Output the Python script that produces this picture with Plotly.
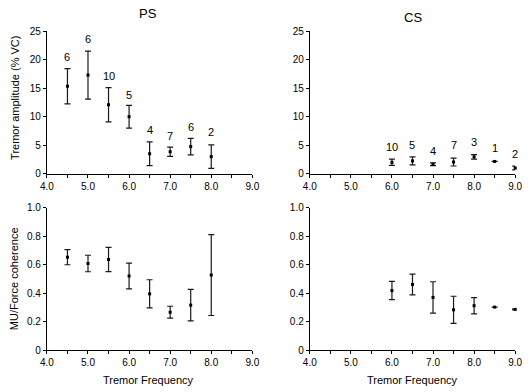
import plotly.graph_objects as go

# ---------------- data ----------------
ps_freq = [4.5, 5.0, 5.5, 6.0, 6.5, 7.0, 7.5, 8.0]
ps_amp = [15.35, 17.3, 12.1, 10.0, 3.5, 3.85, 4.75, 3.0]
ps_amp_err = [3.1, 4.2, 3.0, 2.0, 2.1, 0.8, 1.45, 2.05]
ps_n = ["6", "6", "10", "5", "4", "7", "6", "2"]
ps_label_y = [20.5, 23.6, 17.2, 13.8, 7.6, 6.6, 8.2, 7.3]

cs_freq = [6.0, 6.5, 7.0, 7.5, 8.0, 8.5, 9.0]
cs_amp = [2.0, 2.25, 1.65, 2.05, 2.95, 2.15, 1.0]
cs_amp_err = [0.55, 0.7, 0.25, 0.7, 0.38, 0.0, 0.32]
cs_n = ["10", "5", "4", "7", "3", "1", "2"]
cs_label_y = [4.7, 5.1, 3.95, 5.0, 5.55, 4.45, 3.5]

ps_coh = [0.652, 0.608, 0.636, 0.52, 0.395, 0.266, 0.316, 0.527]
ps_coh_err = [0.053, 0.058, 0.085, 0.09, 0.099, 0.042, 0.11, 0.284]

cs_coh = [0.418, 0.461, 0.37, 0.283, 0.312, 0.302, 0.286]
cs_coh_err = [0.064, 0.073, 0.11, 0.095, 0.057, 0.0, 0.004]

x_tickvals = [4.0, 4.5, 5.0, 5.5, 6.0, 6.5, 7.0, 7.5, 8.0, 8.5, 9.0]
x_ticktext = ["4.0", "", "5.0", "", "6.0", "", "7.0", "", "8.0", "", "9.0"]
amp_tickvals = [0, 5, 10, 15, 20, 25]
amp_ticktext = ["0", "5", "10", "15", "20", "25"]
coh_tickvals = [0, 0.2, 0.4, 0.6, 0.8, 1.0]
coh_ticktext = ["0", "0.2", "0.4", "0.6", "0.8", "1.0"]

# ---------------- figure ----------------
W, H = 529, 392
FONT = "Liberation Sans, Arial, sans-serif"
fig = go.Figure()

panels = [
    ("x", "y", ps_freq, ps_amp, ps_amp_err),
    ("x2", "y2", cs_freq, cs_amp, cs_amp_err),
    ("x3", "y3", ps_freq, ps_coh, ps_coh_err),
    ("x4", "y4", cs_freq, cs_coh, cs_coh_err),
]
for xa, ya, xs, ys, es in panels:
    fig.add_trace(go.Scatter(
        x=xs, y=ys, xaxis=xa, yaxis=ya, mode="markers",
        marker=dict(symbol="square", size=3, color="black"),
        error_y=dict(type="data", array=es, visible=True, color="#1a1a1a",
                     thickness=1.2, width=3),
        cliponaxis=False, showlegend=False, hoverinfo="skip",
    ))

xl = [41 / W, 252 / W]
xr = [311 / W, 522 / W]
yt = [1 - 173 / H, 1 - 26 / H]
yb = [1 - 355 / H, 1 - 208 / H]

tickfont = dict(family=FONT, size=10, color="black")
common_x = dict(range=[4.0, 9.0], tickvals=x_tickvals, ticktext=x_ticktext,
                showline=True, linecolor="black", linewidth=1, ticks="outside",
                ticklen=3, tickcolor="black", tickwidth=1, showgrid=False,
                zeroline=False, tickfont=tickfont, fixedrange=True)
common_y = dict(showline=True, linecolor="black", linewidth=1, ticks="outside",
                ticklen=3, tickcolor="black", tickwidth=1, showgrid=False,
                zeroline=False, tickfont=tickfont, fixedrange=True)

fig.update_layout(
    width=W, height=H, margin=dict(l=0, r=0, t=0, b=0),
    paper_bgcolor="white", plot_bgcolor="white",
    font=dict(family=FONT, color="black"),
    xaxis=dict(domain=xl, anchor="y", **common_x),
    yaxis=dict(domain=yt, anchor="x", range=[0, 25], tickvals=amp_tickvals,
               ticktext=amp_ticktext, **common_y),
    xaxis2=dict(domain=xr, anchor="y2", **common_x),
    yaxis2=dict(domain=yt, anchor="x2", range=[0, 25], tickvals=amp_tickvals,
                ticktext=amp_ticktext, **common_y),
    xaxis3=dict(domain=xl, anchor="y3", **common_x),
    yaxis3=dict(domain=yb, anchor="x3", range=[0, 1.0], tickvals=coh_tickvals,
                ticktext=coh_ticktext, **common_y),
    xaxis4=dict(domain=xr, anchor="y4", **common_x),
    yaxis4=dict(domain=yb, anchor="x4", range=[0, 1.0], tickvals=coh_tickvals,
                ticktext=coh_ticktext, **common_y),
)

ann = []
lab_font = dict(family=FONT, size=11, color="black")
for xv, t, yv in zip(ps_freq, ps_n, ps_label_y):
    ann.append(dict(x=xv, y=yv, xref="x", yref="y", text=t, showarrow=False,
                    font=lab_font, xanchor="center", yanchor="middle"))
for xv, t, yv in zip(cs_freq, cs_n, cs_label_y):
    ann.append(dict(x=xv, y=yv, xref="x2", yref="y2", text=t, showarrow=False,
                    font=lab_font, xanchor="center", yanchor="middle"))

title_font = dict(family=FONT, size=13, color="black")
ann.append(dict(x=145 / W, y=1 - 8 / H, xref="paper", yref="paper", text="PS",
                showarrow=False, font=title_font, xanchor="center", yanchor="middle"))
ann.append(dict(x=417 / W, y=1 - 12 / H, xref="paper", yref="paper", text="CS",
                showarrow=False, font=title_font, xanchor="center", yanchor="middle"))

axt_font = dict(family=FONT, size=11, color="black")
for cx in [145, 417]:
    ann.append(dict(x=cx / W, y=1 - 386 / H, xref="paper", yref="paper",
                    text="Tremor Frequency", showarrow=False, font=axt_font,
                    xanchor="center", yanchor="middle"))
ann.append(dict(x=8 / W, y=1 - 95 / H, xref="paper", yref="paper",
                text="Tremor amplitude (% VC)", textangle=-90, showarrow=False,
                font=axt_font, xanchor="center", yanchor="middle"))
ann.append(dict(x=8 / W, y=1 - 281 / H, xref="paper", yref="paper",
                text="MU/Force coherence", textangle=-90, showarrow=False,
                font=axt_font, xanchor="center", yanchor="middle"))
fig.update_layout(annotations=ann)

fig.write_html("out.html",
               config={"displayModeBar": False},
               post_script="document.body.style.margin='0';"
                           "document.body.style.overflow='hidden';")
